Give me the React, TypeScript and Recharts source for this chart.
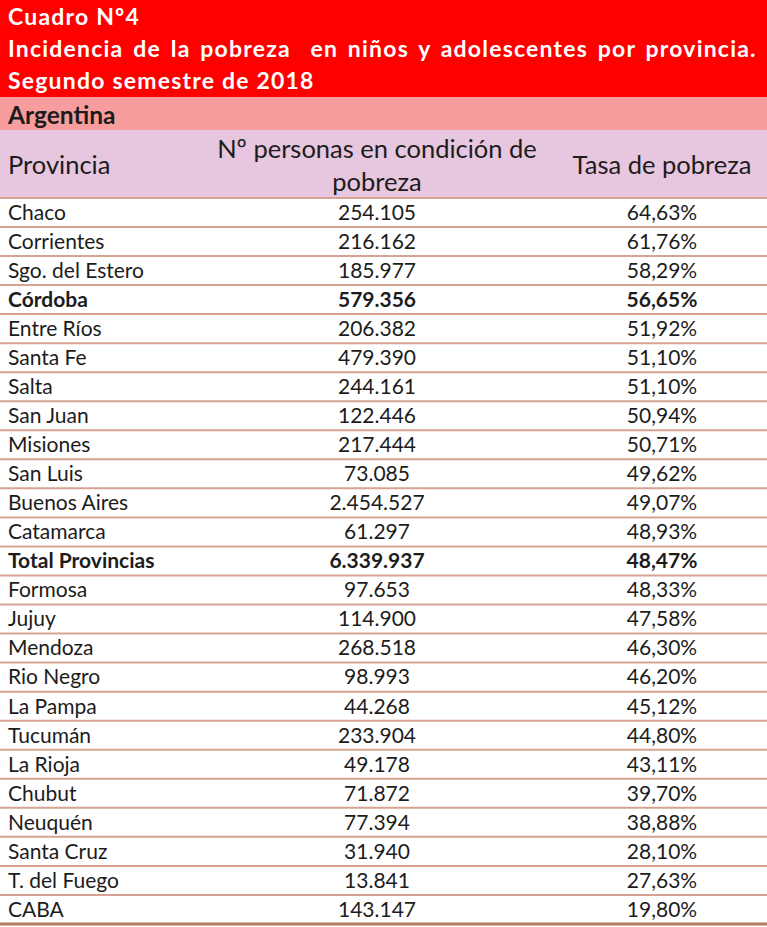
import React from 'react';
import { BarChart, Bar, XAxis, YAxis } from 'recharts';

const provincias = [
  'Chaco', 'Corrientes', 'Sgo. del Estero', 'Córdoba', 'Entre Ríos', 'Santa Fe', 'Salta',
  'San Juan', 'Misiones', 'San Luis', 'Buenos Aires', 'Catamarca', 'Total Provincias',
  'Formosa', 'Jujuy', 'Mendoza', 'Rio Negro', 'La Pampa', 'Tucumán', 'La Rioja', 'Chubut',
  'Neuquén', 'Santa Cruz', 'T. del Fuego', 'CABA',
];
const personas = [
  254105, 216162, 185977, 579356, 206382, 479390, 244161, 122446, 217444, 73085, 2454527,
  61297, 6339937, 97653, 114900, 268518, 98993, 44268, 233904, 49178, 71872, 77394, 31940,
  13841, 143147,
];
const tasa = [
  64.63, 61.76, 58.29, 56.65, 51.92, 51.1, 51.1, 50.94, 50.71, 49.62, 49.07, 48.93, 48.47,
  48.33, 47.58, 46.3, 46.2, 45.12, 44.8, 43.11, 39.7, 38.88, 28.1, 27.63, 19.8,
];
const negritas = ['Córdoba', 'Total Provincias'];

const titulo = [
  'Cuadro Nº4',
  'Incidencia de la pobreza  en niños y adolescentes por provincia.',
  'Segundo semestre de 2018',
];

const FONT = 'Lato, "Open Sans", sans-serif';
const TEXT = '#1c1c1c';
const LINE = '#d6a393';
const ROW_FONT = 21;

const fmtMiles = (n: number) => String(n).replace(/\B(?=(\d{3})+(?!\d))/g, '.');
const fmtTasa = (n: number) => n.toFixed(2).replace('.', ',') + '%';

const data = provincias.map((p, i) => ({
  provincia: p,
  personas: personas[i],
  tasa: tasa[i],
  bold: negritas.includes(p),
}));

const COL_NUM = 377;
const COL_TASA = 662;

function Fila(props: any) {
  const { y, height, payload, index } = props;
  const cy = y + height / 2;
  const weight = payload.bold ? 700 : 400;
  const last = index === data.length - 1;
  return (
    <g>
      {index === 0 && <line x1={0} x2={767} y1={y} y2={y} stroke={LINE} strokeWidth={2} />}
      <line
        x1={0}
        x2={767}
        y1={y + height}
        y2={y + height}
        stroke={last ? '#b47a62' : LINE}
        strokeWidth={last ? 3 : 2}
      />
      <text x={8} y={cy} dy="0.35em" fontSize={ROW_FONT} fontWeight={weight} fill={TEXT} fontFamily={FONT}>
        {payload.provincia}
      </text>
      <text x={COL_NUM} y={cy} dy="0.35em" textAnchor="middle" fontSize={ROW_FONT} fontWeight={weight} fill={TEXT} fontFamily={FONT}>
        {fmtMiles(payload.personas)}
      </text>
      <text x={COL_TASA} y={cy} dy="0.35em" textAnchor="middle" fontSize={ROW_FONT} fontWeight={weight} fill={TEXT} fontFamily={FONT}>
        {fmtTasa(payload.tasa)}
      </text>
    </g>
  );
}

export default function App() {
  return (
    <div style={{ position: 'absolute', left: 0, top: 0, width: 767, height: 927, background: '#fff', fontFamily: FONT }}>
      {/* titulo */}
      <div style={{ height: 97, background: '#fe0000', color: '#fff', fontWeight: 700, fontSize: 23, letterSpacing: 1.2, lineHeight: '32px', paddingLeft: 8, boxSizing: 'border-box' }}>
        {titulo.map((t, i) => (
          <div key={t} style={{ whiteSpace: 'pre', wordSpacing: i === 1 ? 3 : 0 }}>{t}</div>
        ))}
      </div>
      <div style={{ height: 33, background: '#f89d9d', color: TEXT, fontWeight: 700, fontSize: 24.5, lineHeight: '35px', paddingLeft: 8 }}>
        Argentina
      </div>
      {/* encabezado */}
      <div style={{ position: 'relative', height: 67, background: '#e7c6df', color: TEXT, fontSize: 25.5, lineHeight: '33px' }}>
        <div style={{ position: 'absolute', left: 8, top: 18 }}>Provincia</div>
        <div style={{ position: 'absolute', left: COL_NUM - 190, width: 380, top: 2, textAlign: 'center' }}>
          Nº personas en condición de<br />pobreza
        </div>
        <div style={{ position: 'absolute', left: COL_TASA - 120, width: 240, top: 18, textAlign: 'center' }}>Tasa de pobreza</div>
      </div>
      <BarChart
        width={767}
        height={730}
        data={data}
        layout="vertical"
        barCategoryGap={0}
        margin={{ top: 1, right: 0, bottom: 3, left: 0 }}
      >
        <XAxis type="number" hide domain={[0, 100]} />
        <YAxis type="category" dataKey="provincia" hide />
        <Bar dataKey="tasa" fill="transparent" isAnimationActive={false} shape={(p: any) => <Fila {...p} />} />
      </BarChart>
    </div>
  );
}
